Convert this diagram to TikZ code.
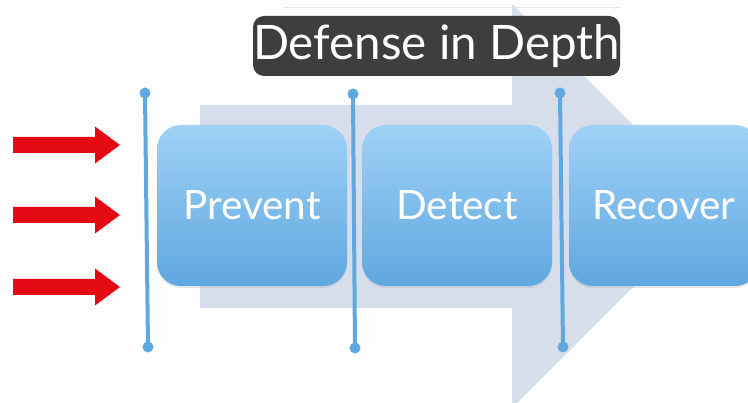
\documentclass[tikz,border=0pt]{standalone}
\usepackage{fontspec}
\setmainfont{Lato}
\usetikzlibrary{shadows}
\definecolor{bgc}{HTML}{FDFDFD}
\definecolor{bigarrow}{HTML}{D6DEEC}
\definecolor{boxtop}{HTML}{A0D2F6}
\definecolor{boxbot}{HTML}{5EA7E0}
\definecolor{vblue}{HTML}{5FA9E0}
\definecolor{attack}{HTML}{E30A13}
\definecolor{titlebg}{HTML}{3E3E3E}
\tikzset{
  stage/.style={rounded corners=24pt, top color=boxtop, bottom color=boxbot,
    minimum width=190pt, minimum height=161pt, text=white,
    font=\fontsize{40.5}{40.5}\selectfont,
    drop shadow={opacity=0.18, shadow xshift=0pt, shadow yshift=-2pt}},
  vline/.style={draw=vblue, line width=4pt},
  vdot/.style={fill=vblue},
  attackarrow/.style={fill=attack},
  titlebox/.style={fill=titlebg, rounded corners=11pt, text=white,
    minimum width=367pt, minimum height=60pt, inner sep=0pt,
    font=\fontsize{47.5}{47.5}\selectfont}
}
\begin{document}
\begin{tikzpicture}[x=1pt,y=-1pt]
\useasboundingbox (0,0) rectangle (748,403);
\clip (0,0) rectangle (748,403);
\fill[bgc] (0,0) rectangle (748,403);
\draw[black!9, line width=0.8pt] (283,7) -- (620,7);
% big arrow
\fill[bigarrow] (200,105) -- (512,105) -- (512,4) -- (714,206) -- (512,408) -- (512,308) -- (200,308) -- cycle;
% attack arrows
\foreach \cy in {145,215,287} {
  \fill[attackarrow] (13,\cy-8) -- (95,\cy-8) -- (95,\cy-18.5) -- (120,\cy) -- (95,\cy+18.5) -- (95,\cy+8) -- (13,\cy+8) -- cycle;
}
% stages
\node[stage] (prevent) at (252,205.5) {Prevent};
\node[stage] (detect) at (457,205.5) {Detect};
\node[stage] (recover) at (664,205.5) {Recover};
% vertical barriers
\coordinate (t1) at (145,93); \coordinate (b1) at (148,347);
\coordinate (t2) at (353,94); \coordinate (b2) at (355,348);
\coordinate (t3) at (560,93); \coordinate (b3) at (563,347);
\foreach \i in {1,2,3} {
  \draw[vline] (t\i) -- (b\i);
  \fill[vdot] (t\i) circle (5.5);
  \fill[vdot] (b\i) circle (5.5);
}
% title
\node[titlebox] (title) at (436.5,46) {Defense in Depth};
\end{tikzpicture}
\end{document}
